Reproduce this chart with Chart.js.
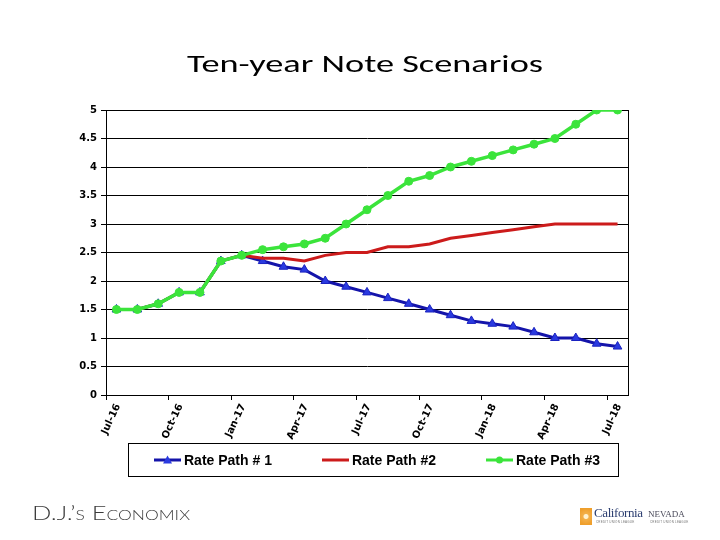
<!DOCTYPE html>
<html>
<head>
<meta charset="utf-8">
<title>Ten-year Note Scenarios</title>
<script src="https://cdn.jsdelivr.net/npm/chart.js@4.4.1/dist/chart.umd.min.js"></script>
<style>
    html, body { margin: 0; padding: 0; background: #fff; }
    #page { position: relative; width: 720px; height: 540px; overflow: hidden; }
    #chart { position: absolute; left: 0; top: 0; }

    .slide-title {
        position: absolute; left: 187px; top: 47px;
        white-space: nowrap; line-height: 34px; transform-origin: 0 0;
        font-family: Calibri, Carlito, "Open Sans", sans-serif;
        font-size: 25.5px; color: #000;
    }

    #legend {
        position: absolute; left: 128px; top: 443px; width: 491px; height: 34px;
        box-sizing: border-box; border: 1px solid #000;
        display: flex; align-items: center; padding-left: 25px;
        font-family: Arial, "Liberation Sans", sans-serif; font-weight: bold; font-size: 14px; color: #000;
    }
    #legend .item { display: flex; align-items: center; margin-right: 50px; white-space: nowrap; }
    #legend svg { display: block; margin-right: 3px; }

    .brand {
        position: absolute; left: 32px; top: 502px; line-height: 1.2;
        white-space: nowrap; transform-origin: 0 0;
        font-family: Lato, "Open Sans", sans-serif; font-weight: 300;
        font-size: 19px; font-variant: small-caps; color: #3a3a3a;
    }
    .logo-mark {
        position: absolute; left: 580px; top: 508px; width: 12px; height: 17px;
        background: radial-gradient(circle at 50% 50%, #fff1cf 0 2px, #f3b04a 3px, #ef9f2c 8px);
    }
    .logo-ca {
        position: absolute; left: 594px; top: 505px; line-height: 16px;
        font-family: "Liberation Serif", "DejaVu Serif", serif; font-size: 13px;
        letter-spacing: -0.4px; color: #2b3d70;
    }
    .logo-nv {
        position: absolute; left: 648px; top: 508px; line-height: 12px;
        font-family: "Liberation Serif", "DejaVu Serif", serif; font-size: 9px; color: #4a4a5a;
    }
    .logo-small {
        position: absolute; font-family: "Liberation Sans", sans-serif; font-size: 3px;
        line-height: 4px; color: #777; letter-spacing: 0.2px;
    }
</style>
</head>
<body>
<div id="page">
    <canvas id="chart" width="720" height="540"></canvas>
    <div class="slide-title" id="slideTitle">Ten-year Note Scenarios</div>
    <div id="legend"></div>
    <div class="brand" id="brand">D.J.’s Economix</div>
    <div class="logo-mark"></div>
    <div class="logo-ca">California</div>
    <div class="logo-small" style="left:596px; top:520px;">CREDIT UNION LEAGUE</div>
    <div class="logo-nv">NEVADA</div>
    <div class="logo-small" style="left:650px; top:520px;">CREDIT UNION LEAGUE</div>
</div>

<script>
// Monthly observations, one per month (plotted mid-month)
const months = [
    'Jul-16', 'Aug-16', 'Sep-16', 'Oct-16', 'Nov-16', 'Dec-16',
    'Jan-17', 'Feb-17', 'Mar-17', 'Apr-17', 'May-17', 'Jun-17',
    'Jul-17', 'Aug-17', 'Sep-17', 'Oct-17', 'Nov-17', 'Dec-17',
    'Jan-18', 'Feb-18', 'Mar-18', 'Apr-18', 'May-18', 'Jun-18',
    'Jul-18'
];

const ratePath1 = [1.5, 1.5, 1.6, 1.8, 1.8, 2.35, 2.45, 2.35, 2.25, 2.2, 2.0, 1.9, 1.8,
    1.7, 1.6, 1.5, 1.4, 1.3, 1.25, 1.2, 1.1, 1.0, 1.0, 0.9, 0.85];
const ratePath2 = [1.5, 1.5, 1.6, 1.8, 1.8, 2.35, 2.45, 2.4, 2.4, 2.35, 2.45, 2.5, 2.5,
    2.6, 2.6, 2.65, 2.75, 2.8, 2.85, 2.9, 2.95, 3.0, 3.0, 3.0, 3.0];
const ratePath3 = [1.5, 1.5, 1.6, 1.8, 1.8, 2.35, 2.45, 2.55, 2.6, 2.65, 2.75, 3.0, 3.25,
    3.5, 3.75, 3.85, 4.0, 4.1, 4.2, 4.3, 4.4, 4.5, 4.75, 5.0, 5.0];

// Quarterly labels shown on the date axis
const axisLabels = ['Jul-16', 'Oct-16', 'Jan-17', 'Apr-17', 'Jul-17', 'Oct-17', 'Jan-18', 'Apr-18', 'Jul-18'];

const seriesLabels = ['Rate Path # 1', 'Rate Path #2', 'Rate Path #3'];

/**
 * Turn a series into {x, y} points, x = month index + half a month
 */
function toPoints(values) {
    return values.map((v, i) => ({ x: i + 0.5, y: v }));
}

/**
 * The slide was stretched sideways, so stretch a text block to its width
 */
function stretchTo(el, targetWidth) {
    const w = el.getBoundingClientRect().width;
    if (w > 0) el.style.transform = `scaleX(${targetWidth / w})`;
}

const axisFont = { family: '"DejaVu Sans", Arial, sans-serif', size: 10, weight: 'bold' };

// Black frame round the plot area
const plotBorder = {
    id: 'plotBorder',
    beforeDatasetsDraw(chart) {
        const { ctx, chartArea } = chart;
        ctx.save();
        ctx.strokeStyle = '#000';
        ctx.lineWidth = 1;
        ctx.strokeRect(Math.round(chartArea.left) + 0.5, Math.round(chartArea.top) + 0.5,
            Math.round(chartArea.right - chartArea.left), Math.round(chartArea.bottom - chartArea.top));
        ctx.restore();
    }
};

const chart = new Chart(document.getElementById('chart'), {
    type: 'line',
    data: {
        datasets: [
            {
                label: seriesLabels[0],
                data: toPoints(ratePath1),
                borderColor: '#1414aa',
                borderWidth: 3,
                pointStyle: 'triangle',
                pointRadius: 5,
                pointBackgroundColor: '#2a3ae0',
                pointBorderColor: '#1a22c0',
                pointBorderWidth: 1,
                order: 2
            },
            {
                label: seriesLabels[1],
                data: toPoints(ratePath2),
                borderColor: '#cc1b1b',
                borderWidth: 3,
                pointRadius: 0,
                order: 1
            },
            {
                label: seriesLabels[2],
                data: toPoints(ratePath3),
                borderColor: '#3be43b',
                borderWidth: 3.5,
                pointStyle: 'circle',
                pointRadius: 4,
                pointBorderWidth: 1,
                pointBackgroundColor: '#3be43b',
                pointBorderColor: '#3be43b',
                order: 0
            }
        ]
    },
    options: {
        responsive: false,
        animation: false,
        layout: { padding: { top: 110, left: 76, right: 92, bottom: 95 } },
        plugins: {
            legend: { display: false },
            tooltip: { enabled: false }
        },
        scales: {
            x: {
                type: 'linear',
                min: 0,
                max: 25,
                afterBuildTicks: (scale) => {
                    scale.ticks = axisLabels.map(l => ({ value: months.indexOf(l) }));
                },
                afterFit: (scale) => { scale.height = 50; },
                ticks: {
                    callback: (value) => months[value],
                    minRotation: 65,
                    maxRotation: 65,
                    autoSkip: false,
                    labelOffset: 12,
                    padding: 2,
                    color: '#000',
                    font: axisFont
                },
                grid: { drawOnChartArea: false, tickLength: 5, color: '#000' },
                border: { color: '#000' }
            },
            y: {
                min: 0,
                max: 5,
                afterFit: (scale) => { scale.width = 30; },
                ticks: {
                    stepSize: 0.5,
                    padding: 4,
                    color: '#000',
                    font: axisFont,
                    callback: (value) => String(Math.round(value * 10) / 10)
                },
                grid: { color: '#000', tickLength: 5 },
                border: { color: '#000' }
            }
        }
    },
    plugins: [plotBorder]
});

/**
 * HTML legend built from the datasets (line + marker swatches)
 */
function buildLegend(chart) {
    const legendEl = document.getElementById('legend');
    legendEl.innerHTML = '';
    chart.data.datasets.forEach(ds => {
        let marker = '';
        if (ds.pointStyle === 'triangle') {
            marker = `<polygon points="13.5,1.5 18,9.5 9,9.5" fill="${ds.pointBackgroundColor}"/>`;
        } else if (ds.pointStyle === 'circle' && ds.pointRadius > 0) {
            marker = `<circle cx="13.5" cy="6" r="3.5" fill="${ds.pointBackgroundColor}"/>`;
        }
        const item = document.createElement('div');
        item.className = 'item';
        item.innerHTML = `
            <svg width="27" height="12" viewBox="0 0 27 12">
                <line x1="0" y1="6" x2="27" y2="6" stroke="${ds.borderColor}" stroke-width="3"/>
                ${marker}
            </svg>
            <span>${ds.label}</span>`;
        legendEl.appendChild(item);
    });
}

buildLegend(chart);
stretchTo(document.getElementById('slideTitle'), 356);
stretchTo(document.getElementById('brand'), 158);
</script>
</body>
</html>
